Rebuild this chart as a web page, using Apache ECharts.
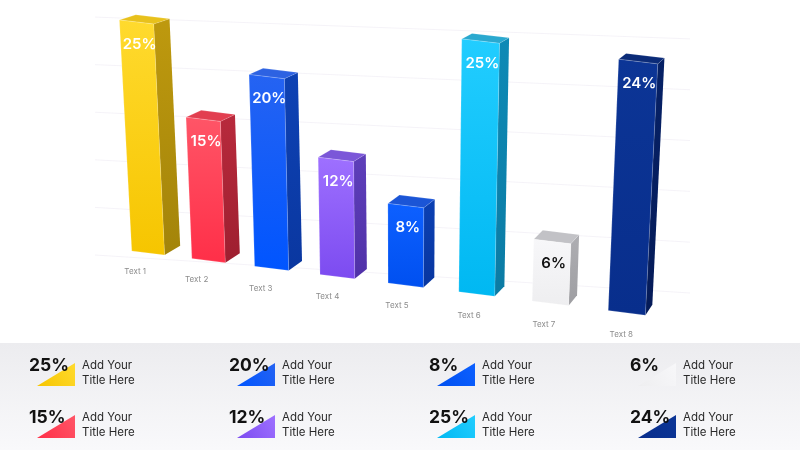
<!DOCTYPE html>
<html><head><meta charset="utf-8">
<script src="https://cdn.jsdelivr.net/npm/echarts@6/dist/echarts.min.js"></script>
<style>html,body{margin:0;padding:0;background:#fff}#c{width:800px;height:450px}</style>
</head><body><div id="c"></div>
<script>
// ---- data ----
const categories = ['Text 1', 'Text 2', 'Text 3', 'Text 4', 'Text 5', 'Text 6', 'Text 7', 'Text 8'];
const values = [25, 15, 20, 12, 8, 25, 6, 24];
const gridValues = [0, 5, 10, 15, 20, 25];
const titleLine1 = 'Add Your';
const titleLine2 = 'Title Here';

// ---- styles ----
const palette = [
  { front: ['#FFDA2E', '#F6C500'], side: ['#BE990E', '#A3840A'], top: '#E8C11C', label: '#ffffff' },
  { front: ['#FF5567', '#FF2F48'], side: ['#B82A3C', '#9E1F30'], top: '#E23F50', label: '#ffffff' },
  { front: ['#2563F2', '#0055FF'], side: ['#0E42B4', '#0A37A0'], top: '#2D62E2', label: '#ffffff' },
  { front: ['#9E70FF', '#7C4BF0'], side: ['#5E3FBA', '#5031A8'], top: '#7B57D8', label: '#ffffff' },
  { front: ['#0D60FF', '#0050F0'], side: ['#0B40B3', '#0836A0'], top: '#1B55D6', label: '#ffffff' },
  { front: ['#22CDFF', '#00B8F2'], side: ['#0E8AB6', '#0B7BA4'], top: '#2AA8CF', label: '#ffffff' },
  { front: ['#F7F7F9', '#EEEEF0'], side: ['#AEAEB2', '#9E9EA2'], top: '#C2C2C6', label: '#111111' },
  { front: ['#0C3596', '#082E8C'], side: ['#062166', '#051B58'], top: '#0B2B78', label: '#ffffff' }
];
const FONT = 'Inter, "Noto Sans", sans-serif';
const SLOPE = 0.125, GROW = 0.019, BEND = 1.33, VX = 400, VD = 5000;
const VPX = 1030, VPY = -265, DEPTH = 0.018, FACE = 0.48;

function projector(api) {
  const first = api.coord([0, 0]);
  const step = api.size([1, 0])[0];
  const n = categories.length;
  return function (gx, w, h) {
    const t = (gx - first[0]) / step;
    const s = 1 + GROW * t;
    const xb = gx + BEND * (step / 68.4) * t * (t - (n - 1)) + w * s;
    const yb = first[1] + SLOPE * (xb - first[0]);
    const hs = h * s;
    return [xb + (xb - VX) / VD * hs, yb - hs];
  };
}
function back(p) { return [p[0] + DEPTH * (VPX - p[0]), p[1] + DEPTH * (VPY - p[1])]; }
function vgrad(a, b) { return new echarts.graphic.LinearGradient(0, 0, 0, 1, [{ offset: 0, color: a }, { offset: 1, color: b }]); }

function renderBar(params, api) {
  const i = api.value(0), v = api.value(1);
  const base = api.coord([i, 0]);
  const top = api.coord([i, v]);
  const step = api.size([1, 0])[0];
  const P = projector(api);
  const first = api.coord([0, 0]);
  const t = (base[0] - first[0]) / step;
  const s = 1 + GROW * t;
  const h = base[1] - top[1];
  const W = step * FACE;
  const pal = palette[i];
  const FLb = P(base[0], -W / 2, 0), FRb = P(base[0], W / 2, 0);
  const FRt = P(base[0], W / 2, h), FLt = P(base[0], -W / 2, h);
  const lab = P(base[0], 0, h - 22 / s);
  const bc = P(base[0], 0, 0);
  return {
    type: 'group',
    children: [
      { type: 'polygon', shape: { points: [FRb, FRt, back(FRt), back(FRb)] }, style: { fill: vgrad(pal.side[0], pal.side[1]) } },
      { type: 'polygon', shape: { points: [FLt, FRt, back(FRt), back(FLt)] }, style: { fill: pal.top, stroke: 'rgba(255,255,255,0.25)', lineWidth: 0.6 } },
      { type: 'polygon', shape: { points: [FLb, FRb, FRt, FLt] }, style: { fill: vgrad(pal.front[0], pal.front[1]), stroke: 'rgba(255,255,255,0.3)', lineWidth: 0.6 } },
      { type: 'text', style: { text: v + '%', x: lab[0] + 2, y: lab[1], fill: pal.label, font: '600 15px ' + FONT, align: 'center', verticalAlign: 'middle', textAlign: 'center', textVerticalAlign: 'middle' } },
      { type: 'text', style: { text: categories[i], x: bc[0] - 13 + 1.07 * t, y: bc[1] + 19 + 0.43 * t, fill: '#8c8c8c', font: '8px ' + FONT, align: 'center', verticalAlign: 'middle', textAlign: 'center', textVerticalAlign: 'middle' } }
    ]
  };
}

function renderGrid(params, api) {
  const v = api.value(1);
  const y0 = api.coord([0, 0])[1];
  const hpx = y0 - api.coord([0, v])[1];
  return {
    type: 'line',
    shape: { x1: 95, y1: y0 + 2 - hpx * 1.03, x2: 690, y2: y0 + 40 - hpx * 1.10 },
    style: { stroke: 'rgba(225,218,232,0.32)', lineWidth: 1 }
  };
}

const graphics = [{
  type: 'rect', z: -10, shape: { x: 0, y: 343, width: 800, height: 107 },
  style: { fill: vgrad('#ececef', '#f9f9fb') }
}];
values.forEach(function (v, i) {
  const c = Math.floor(i / 2), r = i % 2, ox = 200 * c + (c === 3 ? 1 : 0), oy = 52 * r;
  const pal = palette[i];
  graphics.push({ type: 'polygon', shape: { points: [[37 + ox, 386 + oy], [75 + ox, 386 + oy], [75 + ox, 363 + oy]] },
    style: { fill: new echarts.graphic.LinearGradient(0, 1, 1, 0, [{ offset: 0, color: pal.front[1] }, { offset: 1, color: pal.front[0] }]) } });
  graphics.push({ type: 'text', style: { text: v + '%', x: 29 + ox, y: 366 + oy, fill: '#111', font: 'bold 17.5px ' + FONT, verticalAlign: 'middle', textVerticalAlign: 'middle' } });
  graphics.push({ type: 'text', style: { text: titleLine1 + '\n' + titleLine2, x: 82 + ox, y: 373 + oy, fill: '#2a2a2a', font: '11.5px ' + FONT, lineHeight: 15, verticalAlign: 'middle', textVerticalAlign: 'middle' } });
});

const chart = echarts.init(document.getElementById('c'), null, { renderer: 'canvas' });
chart.setOption({
  animation: false,
  backgroundColor: '#ffffff',
  grid: { left: 114, right: 139, top: 22, bottom: 197 },
  xAxis: { type: 'category', data: categories, show: false },
  yAxis: { type: 'value', min: 0, max: 25, show: false },
  graphic: graphics,
  series: [
    { type: 'custom', z: 1, data: gridValues.map(function (g) { return [0, g]; }), renderItem: renderGrid, silent: true },
    { type: 'custom', z: 2, data: values.map(function (v, i) { return [i, v]; }), renderItem: renderBar }
  ]
});
</script></body></html>
